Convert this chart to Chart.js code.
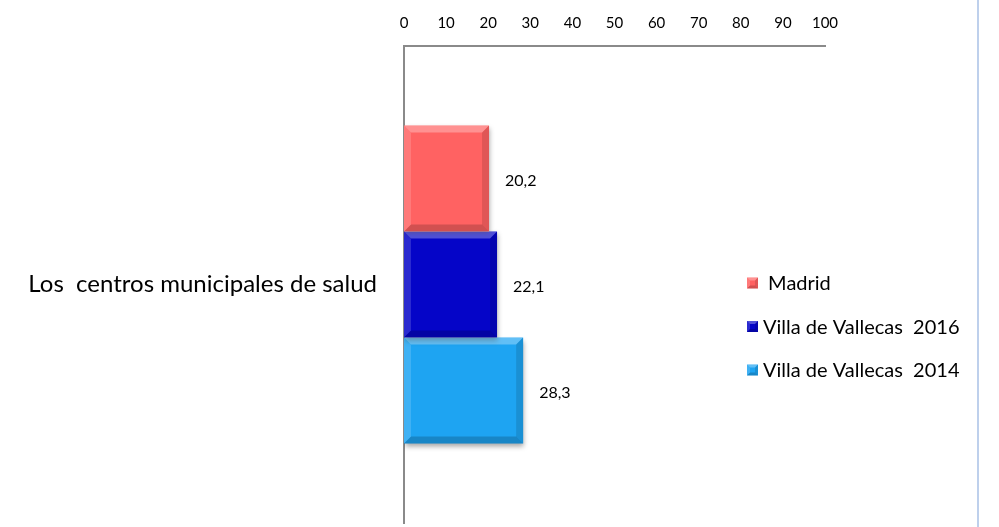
<!DOCTYPE html>
<html>
<head>
<meta charset="utf-8">
<script src="https://cdn.jsdelivr.net/npm/chart.js@4/dist/chart.umd.min.js"></script>
<style>
  html, body { margin: 0; padding: 0; background: #fff; }
  #wrap { position: relative; width: 999px; height: 527px; }
</style>
</head>
<body>
<div id="wrap"><canvas id="chart" width="999" height="527"></canvas></div>
<script>
// data
const categories = ['Los  centros municipales de salud'];
const seriesLabels = [' Madrid', 'Villa de Vallecas  2016', 'Villa de Vallecas  2014'];
const madrid = [20.2];
const vallecas2016 = [22.1];
const vallecas2014 = [28.3];
const seriesColors = ['#ff6262', '#0505c8', '#1ea4f2'];

const FONT = 'Lato, "Open Sans", sans-serif';

// value labels next to each bar, comma decimals
const valueLabels = {
    id: 'valueLabels',
    afterDatasetsDraw(chart) {
        const ctx = chart.ctx;
        ctx.save();
        ctx.font = '16px ' + FONT;
        ctx.fillStyle = '#000';
        ctx.textAlign = 'left';
        ctx.textBaseline = 'middle';
        chart.data.datasets.forEach((ds, i) => {
            chart.getDatasetMeta(i).data.forEach((bar, j) => {
                const txt = ds.data[j].toFixed(1).replace('.', ',');
                ctx.fillText(txt, bar.x + 16, bar.y + 2);
            });
        });
        ctx.restore();
    }
};

// soft shadow under the bars
const barShadow = {
    id: 'barShadow',
    beforeDatasetsDraw(chart) {
        const ctx = chart.ctx;
        ctx.save();
        ctx.shadowColor = 'rgba(0,0,0,0.35)';
        ctx.shadowBlur = 5;
        ctx.shadowOffsetX = 1;
        ctx.shadowOffsetY = 3;
    },
    afterDatasetsDraw(chart) {
        chart.ctx.restore();
    }
};

// bevelled edges on each bar
function bevel(ctx, l, t, r, b, s) {
    const faces = [
        [[l, t], [r, t], [r - s, t + s], [l + s, t + s], 'rgba(255,255,255,0.30)'],
        [[l, b], [r, b], [r - s, b - s], [l + s, b - s], 'rgba(0,0,0,0.18)'],
        [[l, t], [l + s, t + s], [l + s, b - s], [l, b], 'rgba(255,255,255,0.15)'],
        [[r, t], [r - s, t + s], [r - s, b - s], [r, b], 'rgba(0,0,0,0.12)']
    ];
    faces.forEach(f => {
        ctx.fillStyle = f[4];
        ctx.beginPath();
        ctx.moveTo(f[0][0], f[0][1]);
        for (let k = 1; k < 4; k++) ctx.lineTo(f[k][0], f[k][1]);
        ctx.closePath();
        ctx.fill();
    });
}

const barBevel = {
    id: 'barBevel',
    afterDatasetsDraw(chart) {
        const ctx = chart.ctx;
        ctx.save();
        chart.data.datasets.forEach((ds, i) => {
            chart.getDatasetMeta(i).data.forEach(bar => {
                const p = bar.getProps(['x', 'y', 'base', 'height'], true);
                bevel(ctx, p.base, p.y - p.height / 2, p.x, p.y + p.height / 2, 7);
            });
        });
        ctx.restore();
    }
};

// legend drawn inside the plot, on the right
const sideLegend = {
    id: 'sideLegend',
    afterDraw(chart) {
        const ctx = chart.ctx;
        ctx.save();
        ctx.font = '20px ' + FONT;
        ctx.textBaseline = 'middle';
        ctx.textAlign = 'left';
        chart.data.datasets.forEach((ds, i) => {
            const y = 283 + i * 43.5;
            ctx.fillStyle = ds.backgroundColor;
            ctx.fillRect(747, y - 5.5, 11, 11);
            bevel(ctx, 747, y - 5.5, 758, y + 5.5, 3);
            ctx.fillStyle = '#000';
            ctx.fillText(ds.label, 763, y + 1);
        });
        // right frame line
        ctx.strokeStyle = '#a9c1e6';
        ctx.lineWidth = 1.5;
        ctx.beginPath();
        ctx.moveTo(978, 0);
        ctx.lineTo(978, 527);
        ctx.stroke();
        ctx.restore();
    }
};

new Chart(document.getElementById('chart'), {
    type: 'bar',
    data: {
        labels: categories,
        datasets: [
            { label: seriesLabels[0], data: madrid, backgroundColor: seriesColors[0] },
            { label: seriesLabels[1], data: vallecas2016, backgroundColor: seriesColors[1] },
            { label: seriesLabels[2], data: vallecas2014, backgroundColor: seriesColors[2] }
        ]
    },
    options: {
        indexAxis: 'y',
        responsive: false,
        animation: false,
        layout: { padding: { left: 0, right: 174, top: 0, bottom: 4 } },
        datasets: {
            bar: { categoryPercentage: 0.667, barPercentage: 1.0, borderWidth: 0 }
        },
        plugins: {
            legend: { display: false },
            tooltip: { enabled: false }
        },
        scales: {
            x: {
                position: 'top',
                min: 0,
                max: 100,
                ticks: {
                    stepSize: 10,
                    color: '#000',
                    font: { family: FONT, size: 15 },
                    padding: 14
                },
                grid: { display: false, drawTicks: false },
                border: { display: true, color: '#8a8a8a', width: 2 },
                afterFit(scale) {
                    scale.height = 46;
                    scale.paddingLeft = 0;
                    scale.paddingRight = 0;
                }
            },
            y: {
                ticks: {
                    color: '#000',
                    font: { family: FONT, size: 24 },
                    padding: 27
                },
                grid: { display: false, drawTicks: false },
                border: { display: true, color: '#8a8a8a', width: 2 },
                afterFit(scale) {
                    scale.width = 404;
                    scale.paddingTop = 0;
                    scale.paddingBottom = 0;
                }
            }
        }
    },
    plugins: [barShadow, barBevel, valueLabels, sideLegend]
});
</script>
</body>
</html>
